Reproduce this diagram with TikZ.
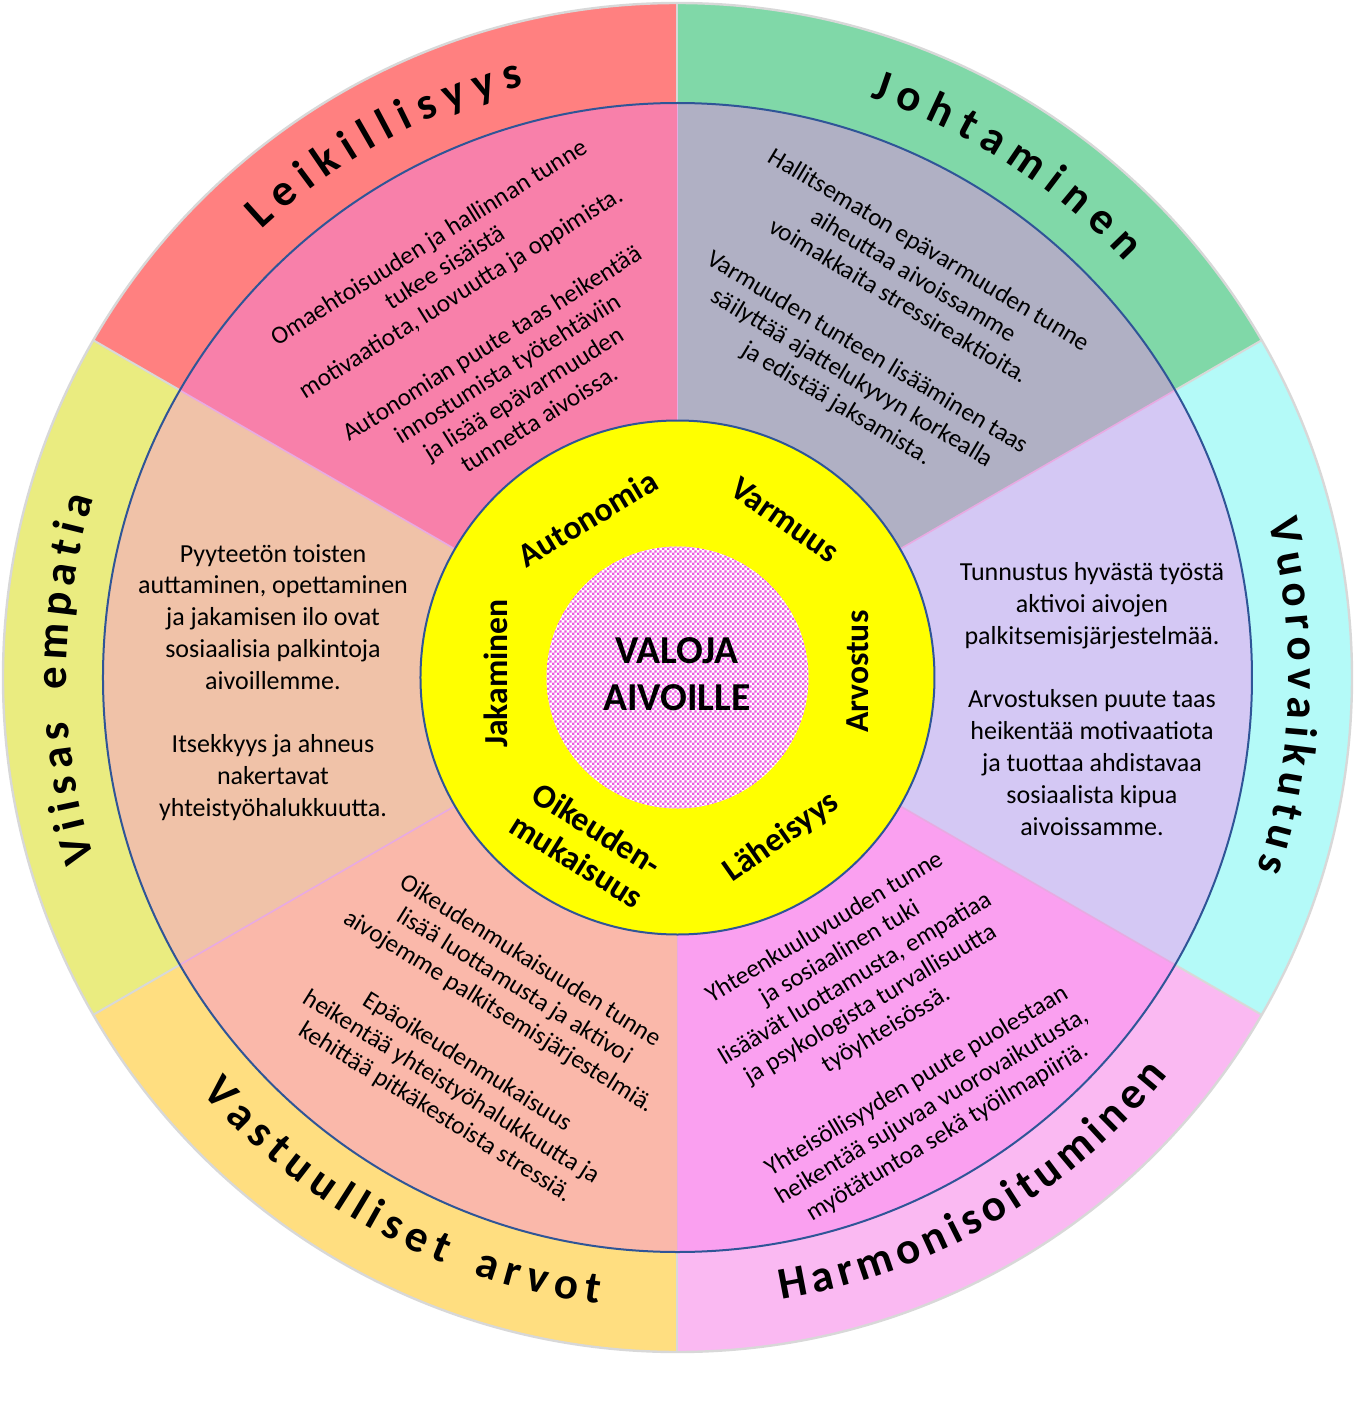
\documentclass[tikz,border=0pt]{standalone}
\usepackage{fontspec}
\setmainfont{Carlito}
\newfontfamily\carl{Carlito}
\usetikzlibrary{patterns}

\pgfdeclarepatternformonly{finechecker}{\pgfpointorigin}{\pgfqpoint{2.4pt}{2.4pt}}{\pgfqpoint{2.4pt}{2.4pt}}{%
  \pgfpathrectangle{\pgfpointorigin}{\pgfqpoint{1.2pt}{1.2pt}}%
  \pgfpathrectangle{\pgfqpoint{1.2pt}{1.2pt}}{\pgfqpoint{1.2pt}{1.2pt}}%
  \pgfusepath{fill}}

\definecolor{oRed}{RGB}{255,128,128}
\definecolor{oGreen}{RGB}{128,216,168}
\definecolor{oCyan}{RGB}{180,250,248}
\definecolor{oPink}{RGB}{250,185,242}
\definecolor{oOrange}{RGB}{255,222,128}
\definecolor{oLime}{RGB}{234,236,128}
\definecolor{iPink}{RGB}{248,128,170}
\definecolor{iGray}{RGB}{176,176,196}
\definecolor{iLav}{RGB}{212,200,244}
\definecolor{iViolet}{RGB}{250,160,240}
\definecolor{iSalmon}{RGB}{250,184,170}
\definecolor{iPeach}{RGB}{240,194,168}
\definecolor{ringYellow}{RGB}{255,255,0}
\definecolor{edgeBlue}{RGB}{47,85,151}
\definecolor{sepGray}{RGB}{216,216,216}
\definecolor{sepPink}{RGB}{232,170,226}
\definecolor{checkMag}{RGB}{236,88,226}

\def\ttlsize{22.5}
\newcommand\ttlfont{\carl\bfseries\fontsize{\ttlsize}{27}\selectfont}

% #1 radius (px), #2 angle of first letter centre, #3 angle of last letter centre,
% #4 rotation offset (-90 tops outward, +90 tops inward), #5 letter/width(em) pairs, #6 name prefix
\newcommand\arctitle[6]{%
  \gdef\atW{0}\gdef\atN{0}\gdef\atFirst{0}\gdef\atLast{0}%
  \foreach \ch/\cwem in {#5}{%
    \pgfmathsetmacro\cw{\cwem*\ttlsize}%
    \pgfmathsetmacro\tmpW{\atW+\cw}\xdef\atW{\tmpW}%
    \pgfmathtruncatemacro\tmpN{\atN+1}\xdef\atN{\tmpN}%
    \ifnum\atN=1 \xdef\atFirst{\cw}\fi
    \xdef\atLast{\cw}%
  }%
  \pgfmathsetmacro\atT{(abs((#3)-(#2))/180*pi*(#1)*0.5-(\atW-\atFirst/2-\atLast/2))/(\atN-1)}%
  \pgfmathsetmacro\atDir{ifthenelse((#3)<(#2),-1,1)}%
  \gdef\atPos{0}%
  \foreach \ch/\cwem [count=\ci] in {#5}{%
    \pgfmathsetmacro\cw{\cwem*\ttlsize}%
    \pgfmathsetmacro\ang{(#2)+\atDir*((\atPos-\atFirst/2+\cw/2)/(pi*(#1)*0.5))*180}%
    \node[titlechar, rotate=\ang#4] (#6\ci) at (\ang:#1) {\ch};
    \pgfmathsetmacro\tmpP{\atPos+\cw+\atT}\xdef\atPos{\tmpP}%
  }%
}

\begin{document}
\begin{tikzpicture}[x=0.5pt,y=0.5pt,
  titlechar/.style={font=\ttlfont, inner sep=0pt, text height=14.5pt, text depth=4.5pt},
  rotblock/.style={font=\fontsize{12.6}{14.9}\selectfont, align=center, inner sep=0pt},
  hblock/.style={font=\fontsize{13}{15.9}\selectfont, align=center, inner sep=0pt},
  ringlabel/.style={font=\bfseries\fontsize{16.8}{19}\selectfont, align=center, inner sep=0pt},
  centerlabel/.style={font=\bfseries\fontsize{19.8}{23.8}\selectfont, align=center, inner sep=0pt},
  outersep/.style={draw=sepGray, line width=1pt},
  innersep/.style={draw=sepPink, line width=0.8pt},
  blueedge/.style={draw=edgeBlue, line width=1pt}]
\useasboundingbox (-677.5,677.5) rectangle (684.5,-732.5);

% outer ring
\foreach \a/\b/\col in {90/150/oRed, 30/90/oGreen, -30/30/oCyan, -90/-30/oPink, 210/270/oOrange, 150/210/oLime}{
  \fill[\col] (0,0) -- (\a:674.5) arc[start angle=\a, end angle=\b, radius=337.25pt] -- cycle;
}
\foreach \a in {30,90,...,330} \draw[outersep] (\a:574.5) -- (\a:674.5);
\draw[sepGray, line width=1.2pt] (0,0) circle[radius=337.25pt];

% middle ring
\foreach \a/\b/\col in {90/150/iPink, 30/90/iGray, -30/30/iLav, -90/-30/iViolet, 210/270/iSalmon, 150/210/iPeach}{
  \fill[\col] (0,0) -- (\a:574.5) arc[start angle=\a, end angle=\b, radius=287.25pt] -- cycle;
}
\foreach \a in {30,90,...,330} \draw[innersep] (\a:257) -- (\a:574.5);
\draw[blueedge] (0,0) circle[radius=287.25pt];

% yellow ring and core
\fill[ringYellow] (0,0) circle[radius=128.5pt];
\draw[blueedge] (0,0) circle[radius=128.5pt];
\fill[white] (0,0) circle[radius=65.5pt];
\fill[pattern=finechecker, pattern color=checkMag] (0,0) circle[radius=65.5pt];

% titles
\arctitle{621}{132.0}{105.4}{-90}{L/.423,e/.503,i/.246,k/.480,i/.246,l/.246,l/.246,i/.246,s/.399,y/.474,y/.474,s/.399}{leik}
\arctitle{621}{70.9}{44.0}{-90}{J/.334,o/.538,h/.537,t/.347,a/.494,m/.813,i/.246,n/.537,e/.503,n/.537}{joht}
\arctitle{621}{13.5}{-17.5}{-90}{V/.593,u/.537,o/.538,r/.355,o/.538,v/.474,a/.494,i/.246,k/.480,u/.537,t/.347,u/.537,s/.399}{vuor}
\arctitle{621}{-79.2}{-40.1}{+90}{H/.631,a/.494,r/.355,m/.813,o/.538,n/.537,i/.246,s/.399,o/.538,i/.246,t/.347,u/.537,m/.813,i/.246,n/.537,e/.503,n/.537}{harm}
\arctitle{621}{222.3}{262.1}{+90}{V/.593,a/.494,s/.399,t/.347,u/.537,u/.537,l/.246,l/.246,i/.246,s/.399,e/.503,t/.347,~/.40,a/.494,r/.355,v/.474,o/.538,t/.347}{vast}
\arctitle{621}{196.05}{163.95}{-90}{V/.593,i/.246,i/.246,s/.399,a/.494,s/.399,~/.40,e/.503,m/.813,p/.537,a/.494,t/.347,i/.246,a/.494}{viis}

% sector texts
\node[rotblock, rotate=32] (tlText) at (-193.5,347.5) {Omaehtoisuuden ja hallinnan tunne\\tukee sisäistä\\motivaatiota, luovuutta ja oppimista.\\[14.9pt]Autonomian puute taas heikentää\\innostumista työtehtäviin\\ja lisää epävarmuuden\\tunnetta aivoissa.};
\node[rotblock, rotate=-31] (trText) at (205,350) {Hallitsematon epävarmuuden tunne\\aiheuttaa aivoissamme\\voimakkaita stressireaktioita.\\[14.9pt]Varmuuden tunteen lisääminen taas\\säilyttää ajattelukyvyn korkealla\\ja edistää jaksamista.};
\node[hblock] (rText) at (414.5,-21.5) {Tunnustus hyvästä työstä\\aktivoi aivojen\\palkitsemisjärjestelmää.\\[15.9pt]Arvostuksen puute taas\\heikentää motivaatiota\\ja tuottaa ahdistavaa\\sosiaalista kipua\\aivoissamme.};
\node[hblock] (lText) at (-404.5,-5) {Pyyteetön toisten\\auttaminen, opettaminen\\ja jakamisen ilo ovat\\sosiaalisia palkintoja\\aivoillemme.\\[15.9pt]Itsekkyys ja ahneus\\nakertavat\\yhteistyöhalukkuutta.};
\node[rotblock, rotate=31] (brText) at (208.5,-352.5) {Yhteenkuuluvuuden tunne\\ja sosiaalinen tuki\\lisäävät luottamusta, empatiaa\\ja psykologista turvallisuutta\\työyhteisössä.\\[14.9pt]Yhteisöllisyyden puute puolestaan\\heikentää sujuvaa vuorovaikutusta,\\myötätuntoa sekä työilmapiiriä.};
\node[rotblock, rotate=-32] (blText) at (-194.5,-359.5) {Oikeudenmukaisuuden tunne\\lisää luottamusta ja aktivoi\\aivojemme palkitsemisjärjestelmiä.\\[14.9pt]Epäoikeudenmukaisuus\\heikentää yhteistyöhalukkuutta ja\\kehittää pitkäkestoista stressiä.};

% ring labels
\node[ringlabel, rotate=31] (lblAuto) at (-90.2,159.4) {Autonomia};
\node[ringlabel, rotate=-35] (lblVarm) at (107.4,157.7) {Varmuus};
\node[ringlabel, rotate=90] (lblArvo) at (180.1,5.7) {Arvostus};
\node[ringlabel, rotate=35] (lblLah) at (104,-159.9) {Läheisyys};
\node[ringlabel, rotate=-32] (lblOik) at (-90.4,-167) {Oikeuden-\\mukaisuus};
\node[ringlabel, rotate=90] (lblJak) at (-181.4,4) {Jakaminen};
\node[centerlabel] (core) at (-0.5,3.5) {VALOJA\\AIVOILLE};
\end{tikzpicture}
\end{document}
